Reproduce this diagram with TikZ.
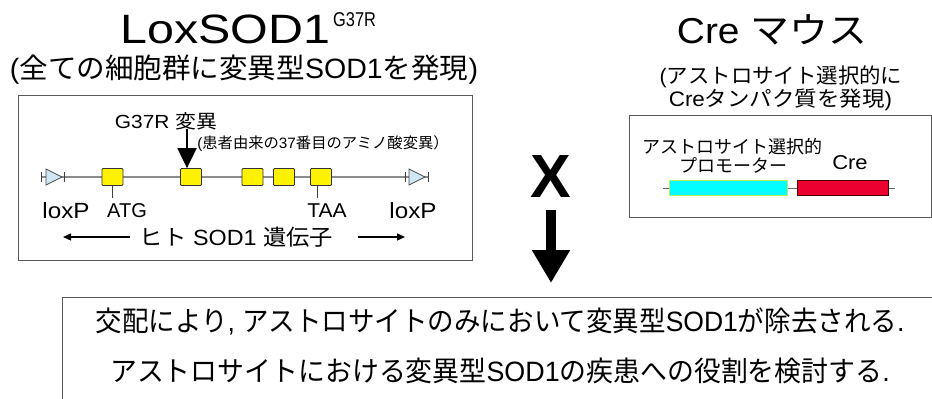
\documentclass[tikz,border=0pt]{standalone}
\usepackage{fontspec}
\setmainfont{Liberation Sans}
\newfontfamily\jpf{Noto Sans CJK JP}
\usetikzlibrary{arrows.meta}
\newcommand{\jt}[1]{{\jpf #1}}
\definecolor{lbl}{HTML}{CFE6F5}
\definecolor{crered}{HTML}{EC0030}
\definecolor{cyanb}{HTML}{B8F060}
\definecolor{cyanf}{RGB}{0,255,255}
\begin{document}
\begin{tikzpicture}[x=1pt,y=-1pt,
  txt/.style={inner sep=0pt, anchor=base},
  fs/.style={font=\fontsize{#1}{#1}\selectfont},
  frame/.style={draw=black!65, line width=1.3pt, inner sep=0pt},
  exon/.style={draw=black!80, fill=yellow, line width=0.8pt, minimum width=21pt, minimum height=17pt, inner sep=0pt, rounded corners=1pt},
  gline/.style={draw=black!45, line width=2pt},
  loxtri/.style={draw=black!70, fill=lbl, line width=0.8pt},
  tickl/.style={draw=black!75, line width=1pt},
  thinarrow/.style={draw=black, line width=1.3pt, -{Triangle[width=7pt,length=8pt]}},
  mutarrow/.style={draw=black, line width=2pt, -{Triangle[width=19pt,length=20pt]}},
  bigarrow/.style={draw=black, line width=10pt, -{Triangle[width=36pt,length=33pt]}},
  cyanbox/.style={draw=cyanb, fill=cyanf, line width=0.8pt, minimum width=118pt, minimum height=15pt, inner sep=0pt},
  redbox/.style={draw=black!70!red, fill=crered, line width=0.8pt, minimum width=91pt, minimum height=15pt, inner sep=0pt}]
\useasboundingbox (0,0) rectangle (932,399);
\clip (0,0) rectangle (932,399);
\fill[white] (0,0) rectangle (932,399);

% ---------- left construct ----------
\node[txt, fs=41, xscale=1.18, anchor=base west] (title) at (120,43) {LoxSOD1};
\node[txt, fs=20, xscale=0.82, anchor=base west] (sup) at (333,26) {G37R};
\node[txt, fs=28, xscale=1.02] (sub) at (244,78) {(\jt{全ての細胞群に変異型}SOD1\jt{を発現})};

\node[frame, anchor=north west, minimum width=454pt, minimum height=165pt] (lbox) at (18,95) {};

\draw[gline] (41,177) -- (428,177);
\draw[loxtri] (46,169) -- (62,177) -- (46,185) -- cycle;
\draw[tickl] (41,172) -- (41,182);
\draw[tickl] (64,172) -- (64,182);
\draw[loxtri] (409,169) -- (425,177) -- (409,185) -- cycle;
\draw[tickl] (405,172) -- (405,182);
\draw[tickl] (428,172) -- (428,182);

\node[exon] (e1) at (112.5,177) {};
\node[exon] (e2) at (191,177) {};
\node[exon] (e3) at (252.5,177) {};
\node[exon] (e4) at (284,177) {};
\node[exon] (e5) at (321,177) {};

\node[txt, fs=19, xscale=1.1] (g37r) at (166,128) {G37R \jt{変異}};
\node[txt, fs=15, xscale=1.02] (note) at (323,148) {(\jt{患者由来の}37\jt{番目のアミノ酸変異）}};
\coordinate (mutstart) at (187,129);
\draw[mutarrow] (mutstart) -- (mutstart |- e2.north);

\draw[tickl] (e1.south) -- ++(0,12);
\draw[tickl] ([xshift=-4pt]e5.south) -- ++(0,12);

\node[txt, fs=22, xscale=1.1] (loxl) at (66,218) {loxP};
\node[txt, fs=20] (atg) at (127,217) {ATG};
\node[txt, fs=20, xscale=1.05] (taa) at (327,217) {TAA};
\node[txt, fs=22, xscale=1.1] (loxr) at (413,218) {loxP};

\node[txt, fs=22, xscale=1.06] (gene) at (236.5,245) {\jt{ヒト} SOD1 \jt{遺伝子}};
\coordinate (gl) at (63,237);
\coordinate (gr) at (405,237);
\draw[thinarrow, shorten <=10pt] (gene.west |- gl) -- (gl);
\draw[thinarrow, shorten <=25pt] (gene.east |- gr) -- (gr);

% ---------- right construct ----------
\node[txt, fs=36, xscale=1.08] (cre) at (772,43) {Cre \jt{マウス}};
\node[txt, fs=21, xscale=1.02] (cre1) at (781,83) {(\jt{アストロサイト選択的に}};
\node[txt, fs=21, xscale=1.07] (cre2) at (780.5,106) {Cre\jt{タンパク質を発現})};

\node[frame, anchor=north west, minimum width=302pt, minimum height=102pt] (rbox) at (629,115) {};
\node[txt, fs=18] (prom1) at (732,153) {\jt{アストロサイト選択的}};
\node[txt, fs=18] (prom2) at (733,172) {\jt{プロモーター}};
\node[txt, fs=20, xscale=1.1] (crel) at (850,169) {Cre};
\draw[draw=black!60, line width=1pt] (663,188) -- (895,188);
\node[cyanbox] (prom) at (728,187.5) {};
\node[redbox] (creg) at (842.5,187.5) {};

% ---------- cross & result ----------
\node[txt, font=\fontsize{61}{61}\selectfont\bfseries] (xmark) at (551,197) {X};
\node[frame, anchor=north west, minimum width=900pt, minimum height=130pt] (bbox) at (62,297) {};
\draw[bigarrow, shorten <=13pt, shorten >=14pt] (xmark.south) -- (xmark.south |- bbox.north);

\node[txt, fs=28, xscale=0.947] (l1) at (500,331) {\jt{交配により}, \jt{アストロサイトのみにおいて変異型}SOD1\jt{が除去される}.};
\node[txt, fs=28, xscale=0.96] (l2) at (500,381) {\jt{アストロサイトにおける変異型}SOD1\jt{の疾患への役割を検討する}.};
\end{tikzpicture}
\end{document}
